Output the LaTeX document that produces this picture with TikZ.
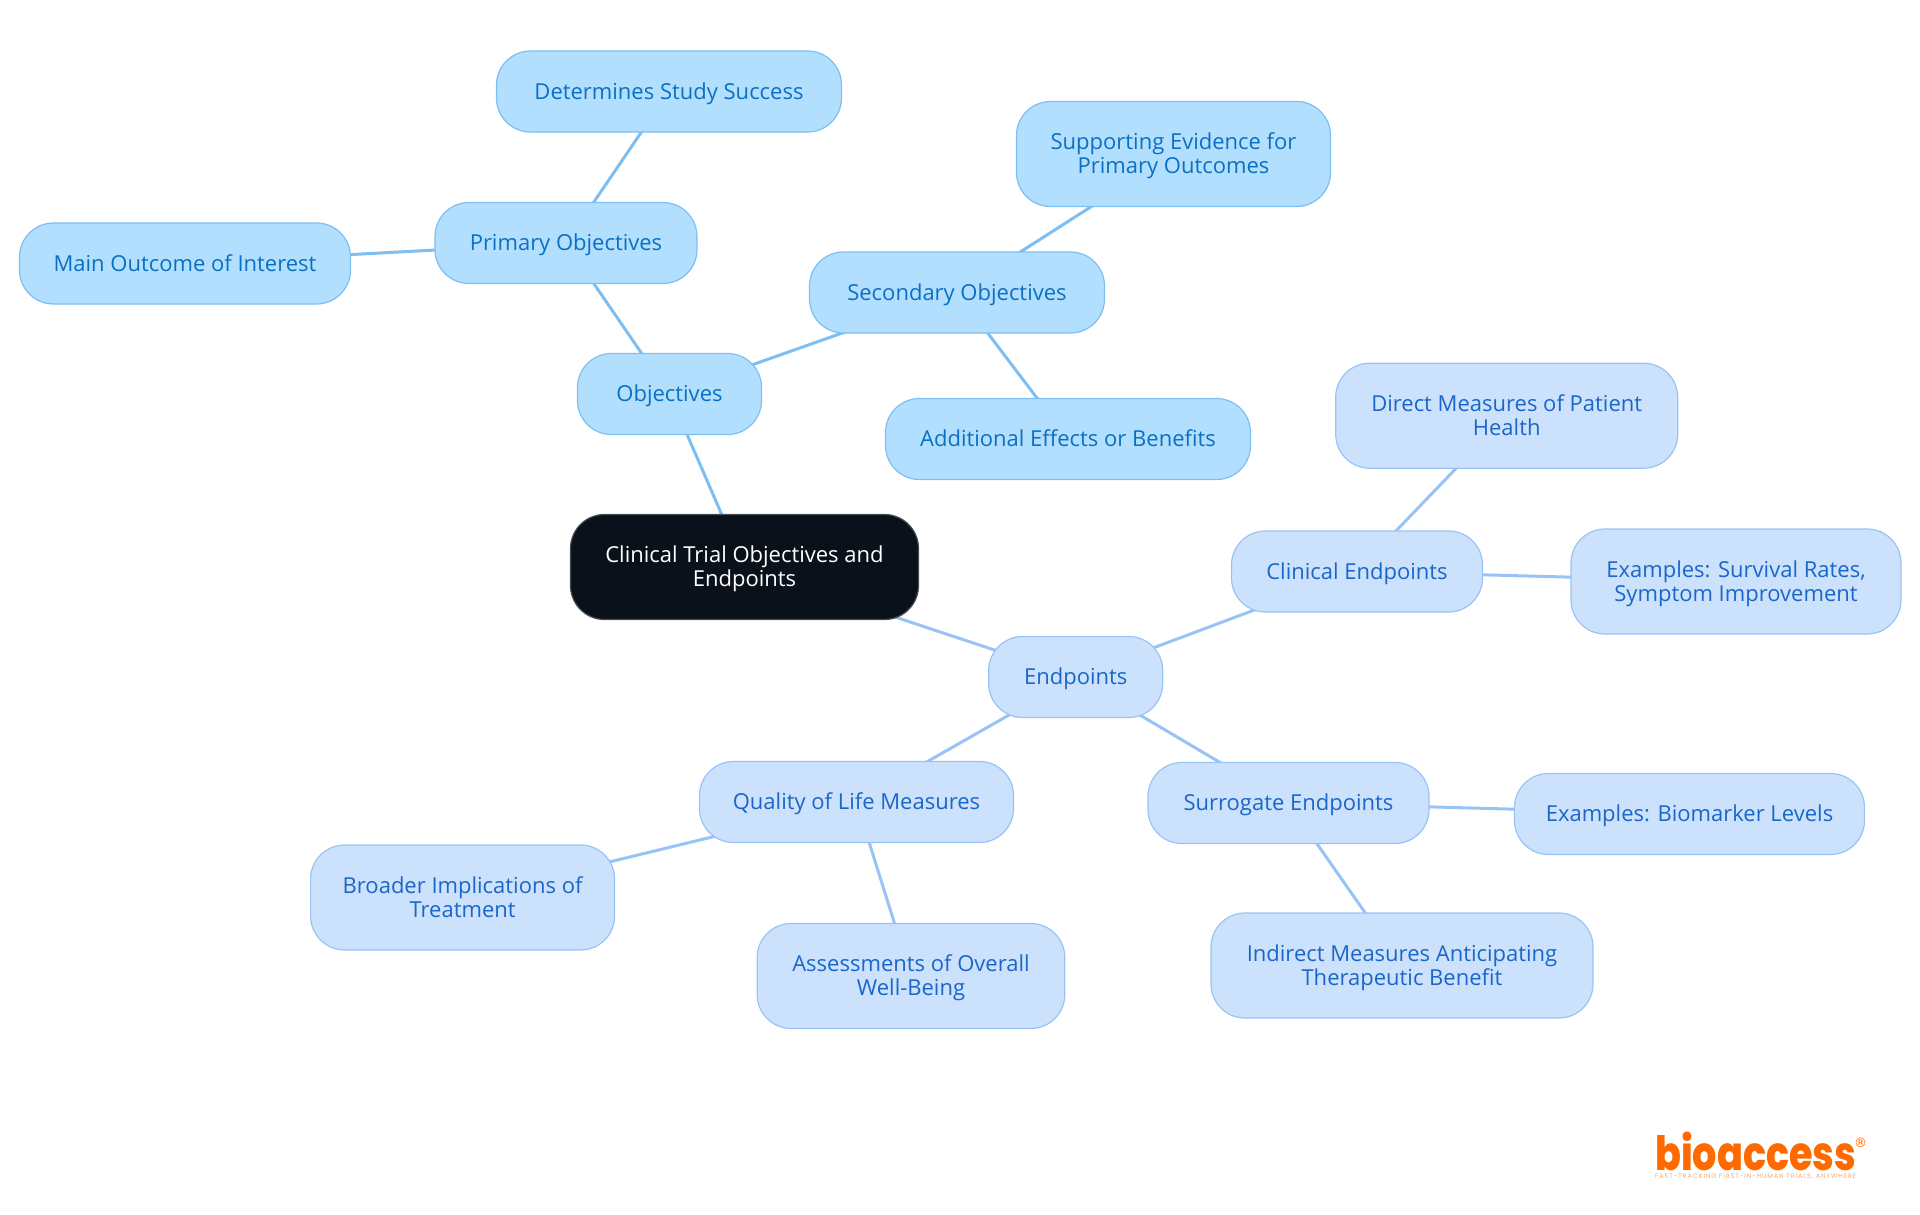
\documentclass[tikz,border=0pt]{standalone}
\usepackage{fontspec}
\setmainfont{Open Sans}
\newfontfamily\logofont[UprightFont=* ExtraBold]{Poppins}
\newfontfamily\tagfont[LetterSpace=14]{Poppins}
\newfontfamily\regfont{DejaVu Sans}
\usetikzlibrary{backgrounds}
\definecolor{rootfill}{HTML}{0B111A}
\definecolor{objfill}{HTML}{B3DFFF}
\definecolor{objline}{HTML}{7DBFF2}
\definecolor{objtext}{HTML}{0B70C4}
\definecolor{endfill}{HTML}{CCE2FC}
\definecolor{endline}{HTML}{99C3F5}
\definecolor{endtext}{HTML}{1A66C9}
\definecolor{logoorange}{HTML}{FF6A00}
\newcommand{\topstrut}{\rule{0pt}{22.8pt}}
\newcommand{\botstrut}{\rule[-7.3pt]{0pt}{7.3pt}}
\newcommand{\twolines}[2]{\topstrut #1\\#2\botstrut}
\tikzset{
  mapnode/.style={rectangle,rounded corners=34pt,line width=1.2pt,inner sep=0pt,align=center,font=\fontsize{22pt}{24.4pt}\selectfont},
  rootnode/.style={mapnode,fill=rootfill,draw=rootfill!75!white,text=white},
  objnode/.style={mapnode,fill=objfill,draw=objline,text=objtext},
  endnode/.style={mapnode,fill=endfill,draw=endline,text=endtext},
  objedge/.style={draw=objline,line width=3pt},
  endedge/.style={draw=endline,line width=3pt},
}
\begin{document}
\begin{tikzpicture}[x=1pt,y=-1pt]
\useasboundingbox (0,0) rectangle (1920,1215);
\node[rootnode,minimum width=348pt,minimum height=105pt] (root) at (744.5,567) {\twolines{Clinical Trial Objectives and}{Endpoints}};
\node[objnode,minimum width=184pt,minimum height=81pt] (obj) at (669.5,394) {\topstrut Objectives\botstrut};
\node[objnode,minimum width=262pt,minimum height=81pt] (prim) at (566,243) {\topstrut Primary Objectives\botstrut};
\node[objnode,minimum width=345pt,minimum height=81pt] (det) at (669,91.5) {\topstrut Determines Study Success\botstrut};
\node[objnode,minimum width=331pt,minimum height=81pt] (main) at (185,263.5) {\topstrut Main Outcome of Interest\botstrut};
\node[objnode,minimum width=295pt,minimum height=81pt] (sec) at (957,292.5) {\topstrut Secondary Objectives\botstrut};
\node[objnode,minimum width=314pt,minimum height=105pt] (sup) at (1173.5,154) {\twolines{Supporting Evidence for}{Primary Outcomes}};
\node[objnode,minimum width=365pt,minimum height=81pt] (add) at (1068,439) {\topstrut Additional Effects or Benefits\botstrut};
\node[endnode,minimum width=174pt,minimum height=81pt] (end) at (1075.7,677) {\topstrut Endpoints\botstrut};
\node[endnode,minimum width=251pt,minimum height=81pt] (clin) at (1357,571.5) {\topstrut Clinical Endpoints\botstrut};
\node[endnode,minimum width=342pt,minimum height=105pt] (dir) at (1506.7,415.7) {\twolines{Direct Measures of Patient}{Health}};
\node[endnode,minimum width=330pt,minimum height=105pt] (surv) at (1736,581.5) {\twolines{Examples: Survival Rates,}{Symptom Improvement}};
\node[endnode,minimum width=281pt,minimum height=81pt] (surr) at (1288.5,803) {\topstrut Surrogate Endpoints\botstrut};
\node[endnode,minimum width=350pt,minimum height=81pt] (bio) at (1689.5,814) {\topstrut Examples: Biomarker Levels\botstrut};
\node[endnode,minimum width=382pt,minimum height=105pt] (ind) at (1402,965.5) {\twolines{Indirect Measures Anticipating}{Therapeutic Benefit}};
\node[endnode,minimum width=314pt,minimum height=81pt] (qol) at (856.5,802) {\topstrut Quality of Life Measures\botstrut};
\node[endnode,minimum width=304pt,minimum height=105pt] (broad) at (462.6,897.5) {\twolines{Broader Implications of}{Treatment}};
\node[endnode,minimum width=307.6pt,minimum height=105pt] (ass) at (911,976) {\twolines{Assessments of Overall}{Well-Being}};
\begin{scope}[on background layer]
\draw[objedge] (root.center) -- (obj.center);
\draw[objedge] (obj.center) -- (prim.center);
\draw[objedge] (prim.center) -- (det.center);
\draw[objedge] (prim.center) -- (main.center);
\draw[objedge] (obj.center) -- (sec.center);
\draw[objedge] (sec.center) -- (sup.center);
\draw[objedge] (sec.center) -- (add.center);
\draw[endedge] (root.center) -- (end.center);
\draw[endedge] (end.center) -- (clin.center);
\draw[endedge] (clin.center) -- (dir.center);
\draw[endedge] (clin.center) -- (surv.center);
\draw[endedge] (end.center) -- (surr.center);
\draw[endedge] (surr.center) -- (bio.center);
\draw[endedge] (surr.center) -- (ind.center);
\draw[endedge] (end.center) -- (qol.center);
\draw[endedge] (qol.center) -- (broad.center);
\draw[endedge] (qol.center) -- (ass.center);
\end{scope}
\node[inner sep=0pt,anchor=west,text=logoorange] (logo) at (1655,1151) {\resizebox{201pt}{38.5pt}{\logofont bioaccess}};
\node[inner sep=0pt,anchor=center,text=logoorange] (reg) at (1860.7,1142.5) {\fontsize{13pt}{13pt}\selectfont\regfont\textregistered};
\node[inner sep=0pt,anchor=west,text=logoorange!60!white] (tag) at (1655,1177) {\resizebox{201pt}{!}{\tagfont FAST-TRACKING FIRST-IN-HUMAN TRIALS, ANYWHERE}};
\end{tikzpicture}
\end{document}
